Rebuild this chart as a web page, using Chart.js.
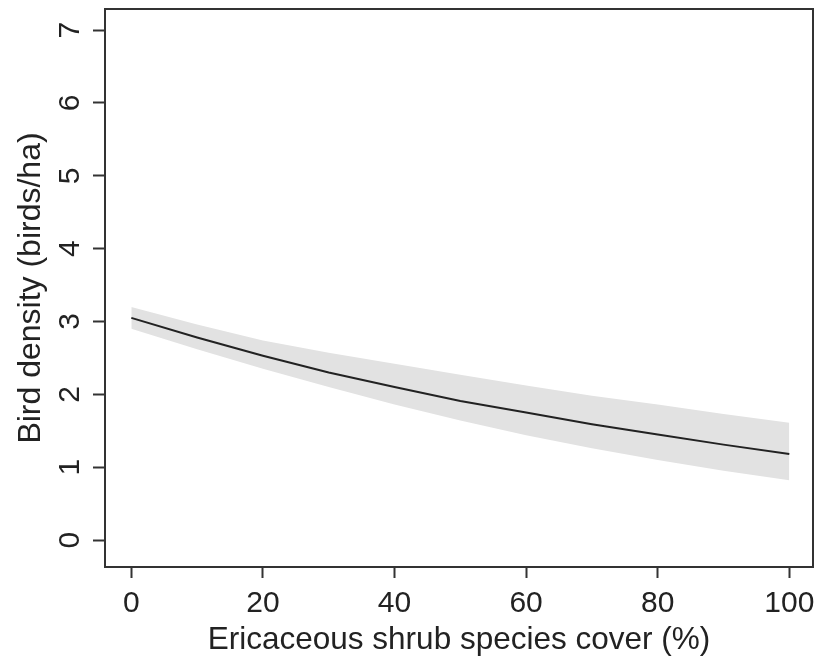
<!DOCTYPE html>
<html>
<head>
<meta charset="utf-8">
<script src="https://cdn.jsdelivr.net/npm/chart.js@4"></script>
<style>
  html, body { margin: 0; padding: 0; background: #fff; }
  #wrap { width: 816px; height: 665px; }
</style>
</head>
<body>
<div id="wrap"><canvas id="birdChart" width="816" height="665"></canvas></div>
<script>
// values
const coverPct = [0, 10, 20, 30, 40, 50, 60, 70, 80, 90, 100];
const density = [3.05, 2.78, 2.53, 2.30, 2.10, 1.91, 1.75, 1.59, 1.45, 1.31, 1.18];
const upperCI = [3.20, 2.96, 2.74, 2.57, 2.42, 2.27, 2.12, 1.98, 1.86, 1.73, 1.61];
const lowerCI = [2.90, 2.62, 2.35, 2.10, 1.86, 1.64, 1.44, 1.26, 1.10, 0.95, 0.82];
const xTicks = [0, 20, 40, 60, 80, 100];
const yTicks = [0, 1, 2, 3, 4, 5, 6, 7];

const FONT = "'Liberation Sans', Arial, sans-serif";
const INK = "#333";

const pts = arr => coverPct.map((x, i) => ({ x: x, y: arr[i] }));

// box around plot + rotated y tick labels (R style)
const framePlugin = {
  id: "frame",
  afterDraw(chart) {
    const ctx = chart.ctx;
    const a = chart.chartArea;
    ctx.save();
    ctx.strokeStyle = INK;
    ctx.lineWidth = 2;
    ctx.strokeRect(a.left, a.top, a.right - a.left, a.bottom - a.top);

    const ys = chart.scales.y;
    ctx.fillStyle = "#222";
    ctx.font = "30px " + FONT;
    ctx.textAlign = "center";
    ctx.textBaseline = "middle";
    yTicks.forEach(v => {
      const py = ys.getPixelForValue(v);
      ctx.save();
      ctx.translate(71, py);
      ctx.rotate(-Math.PI / 2);
      ctx.fillText(String(v), 0, 0);
      ctx.restore();
    });
    ctx.restore();
  }
};

new Chart(document.getElementById("birdChart"), {
  type: "line",
  data: {
    datasets: [
      {
        label: "upper",
        data: pts(upperCI),
        borderWidth: 0,
        pointRadius: 0,
        backgroundColor: "#e2e2e2",
        fill: "+1",
        tension: 0,
        order: 2
      },
      {
        label: "lower",
        data: pts(lowerCI),
        borderWidth: 0,
        pointRadius: 0,
        fill: false,
        tension: 0,
        order: 2
      },
      {
        label: "fit",
        data: pts(density),
        borderColor: "#222",
        borderWidth: 2,
        pointRadius: 0,
        fill: false,
        tension: 0,
        order: 0
      }
    ]
  },
  options: {
    responsive: false,
    animation: false,
    layout: { autoPadding: false, padding: { top: 9, right: 3, left: 0, bottom: 0 } },
    plugins: {
      legend: { display: false },
      tooltip: { enabled: false }
    },
    scales: {
      x: {
        type: "linear",
        min: -4,
        max: 103.6,
        afterBuildTicks: s => { s.ticks = xTicks.map(v => ({ value: v })); },
        afterFit: s => { s.height = 98; s.paddingLeft = 0; s.paddingRight = 0; },
        border: { display: false },
        grid: {
          drawOnChartArea: false,
          drawTicks: true,
          tickLength: 11,
          tickWidth: 2,
          tickColor: INK
        },
        ticks: {
          color: "#222",
          padding: 8,
          maxRotation: 0,
          font: { family: FONT, size: 30 }
        },
        title: {
          display: true,
          text: "Ericaceous shrub species cover (%)",
          color: "#222",
          font: { family: FONT, size: 31.5 },
          padding: { top: 0, bottom: 6 }
        }
      },
      y: {
        type: "linear",
        min: -0.37,
        max: 7.29,
        afterBuildTicks: s => { s.ticks = yTicks.map(v => ({ value: v })); },
        afterFit: s => { s.width = 105; s.paddingTop = 0; s.paddingBottom = 0; },
        border: { display: false },
        grid: {
          drawOnChartArea: false,
          drawTicks: true,
          tickLength: 12,
          tickWidth: 2,
          tickColor: INK
        },
        ticks: { display: false },
        title: {
          display: true,
          text: "Bird density (birds/ha)",
          color: "#222",
          font: { family: FONT, size: 32 },
          padding: { top: 12, bottom: 0 }
        }
      }
    }
  },
  plugins: [framePlugin]
});
</script>
</body>
</html>
